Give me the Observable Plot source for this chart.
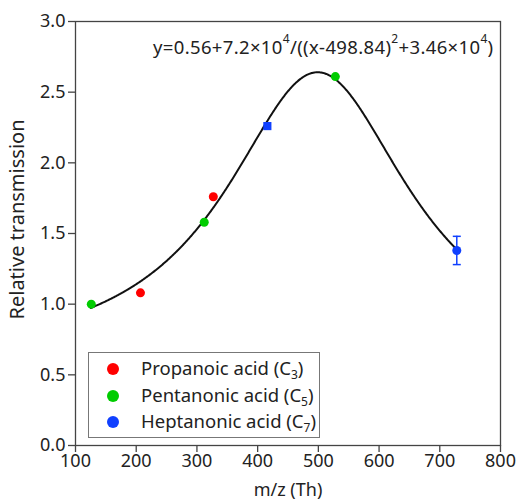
<!DOCTYPE html>
<html>
<head>
<meta charset="utf-8">
<script src="https://cdn.jsdelivr.net/npm/d3@7"></script>
<script src="https://cdn.jsdelivr.net/npm/@observablehq/plot@0.6"></script>
<style>
  html, body { margin: 0; padding: 0; background: #fff; }
  #wrap { position: relative; width: 518px; height: 502px; font-family: "Noto Sans", sans-serif; color: #222; }
  #eq { position: absolute; left: 153px; top: 38px; font-size: 18.5px; letter-spacing: 0.35px; white-space: nowrap; line-height: 1; }
  #eq sup { font-size: 12px; vertical-align: 0; position: relative; top: -11px; }
  #legend { position: absolute; left: 88px; top: 352px; width: 232px; height: 86px; border: 1px solid #777; box-sizing: border-box; background: #fff; }
  .row { position: absolute; left: 0; height: 22px; display: flex; align-items: center; font-size: 18.5px; white-space: nowrap; }
  .dotk { width: 12px; height: 12px; border-radius: 50%; margin-left: 18px; margin-right: 22px; flex: none; }
  .row sub { font-size: 12px; vertical-align: -4px; }
</style>
</head>
<body>
<div id="wrap"></div>
<script>
// ---- data ----
const seriesNames = ["Propanoic acid", "Pentanonic acid", "Heptanonic acid"];
const seriesSub = ["3", "5", "7"];
const seriesColors = ["#ff0000", "#00cc00", "#1040ff"];

const propanoicX = [207, 327];
const propanoicY = [1.08, 1.76];

const pentanonicX = [126, 312, 528];
const pentanonicY = [1.00, 1.58, 2.61];

const heptanonicSquareX = [416];
const heptanonicSquareY = [2.26];
const heptanonicCircleX = [728];
const heptanonicCircleY = [1.38];
const heptanonicErr = [0.10];

// fitted curve parameters printed on the chart: y = a + b/((x-c)^2 + d)
const fitParams = [0.56, 7.2e4, 498.84, 3.46e4];
const fitRange = [125, 728];

const xTicks = [100, 200, 300, 400, 500, 600, 700, 800];
const yTicks = [0, 0.5, 1.0, 1.5, 2.0, 2.5, 3.0];

// ---- build tables ----
const prop = propanoicX.map((x, i) => ({x, y: propanoicY[i]}));
const pent = pentanonicX.map((x, i) => ({x, y: pentanonicY[i]}));
const heptSq = heptanonicSquareX.map((x, i) => ({x, y: heptanonicSquareY[i]}));
const heptCi = heptanonicCircleX.map((x, i) => ({x, y: heptanonicCircleY[i], lo: heptanonicCircleY[i] - heptanonicErr[i], hi: heptanonicCircleY[i] + heptanonicErr[i]}));
const [a, b, c, d] = fitParams;
const curve = d3.range(fitRange[0], fitRange[1] + 0.5, 1).map(x => ({x, y: a + b / ((x - c) ** 2 + d)}));

const capSymbol = {
  draw(ctx, size) {
    const r = Math.sqrt(size / Math.PI);
    ctx.moveTo(-r, 0);
    ctx.lineTo(r, 0);
  }
};

const chart = Plot.plot({
  width: 518,
  height: 502,
  marginLeft: 75,
  marginRight: 18,
  marginTop: 21,
  marginBottom: 57,
  style: {fontFamily: "Noto Sans, sans-serif", fontSize: "18px", color: "#222", background: "#fff"},
  x: {domain: [100, 800]},
  y: {domain: [0, 3]},
  marks: [
    Plot.frame({stroke: "#444", strokeWidth: 1.3}),
    Plot.axisX({ticks: xTicks, tickSize: 7, tickPadding: 2, tickFormat: d3.format("d"), stroke: "#444", strokeWidth: 1.3, fontSize: 18,
      label: "m/z (Th)", labelAnchor: "center", labelArrow: "none", labelOffset: 50}),
    Plot.axisY({ticks: yTicks, tickSize: 7, tickPadding: 3, tickFormat: d3.format(".1f"), stroke: "#444", strokeWidth: 1.3, fontSize: 18, label: null}),
    Plot.text(["Relative transmission"], {frameAnchor: "left", textAnchor: "middle", rotate: -90, dx: -58, dy: -14, fontSize: 20, fill: "#222"}),
    Plot.line(curve, {x: "x", y: "y", stroke: "#111", strokeWidth: 2}),
    Plot.ruleX(heptCi, {x: "x", y1: "lo", y2: "hi", stroke: seriesColors[2], strokeWidth: 1.5}),
    Plot.dot(heptCi, {x: "x", y: "lo", symbol: capSymbol, r: 4, stroke: seriesColors[2], strokeWidth: 1.5}),
    Plot.dot(heptCi, {x: "x", y: "hi", symbol: capSymbol, r: 4, stroke: seriesColors[2], strokeWidth: 1.5}),
    Plot.dot(prop, {x: "x", y: "y", r: 4.5, fill: seriesColors[0]}),
    Plot.dot(pent, {x: "x", y: "y", r: 4.5, fill: seriesColors[1]}),
    Plot.dot(heptSq, {x: "x", y: "y", r: 4.6, symbol: "square", fill: seriesColors[2]}),
    Plot.dot(heptCi, {x: "x", y: "y", r: 4.5, fill: seriesColors[2]})
  ]
});

const wrap = document.getElementById("wrap");
wrap.appendChild(chart);

const eq = document.createElement("div");
eq.id = "eq";
eq.innerHTML = "y=0.56+7.2×10<sup>4</sup>/((x-498.84)<sup>2</sup>+3.46×10<sup>4</sup>)";
wrap.appendChild(eq);

const legend = document.createElement("div");
legend.id = "legend";
seriesNames.forEach((name, i) => {
  const row = document.createElement("div");
  row.className = "row";
  row.style.top = (5 + i * 26.5) + "px";
  row.innerHTML = `<span class="dotk" style="background:${seriesColors[i]}"></span><span>${name} (C<sub>${seriesSub[i]}</sub>)</span>`;
  legend.appendChild(row);
});
wrap.appendChild(legend);
</script>
</body>
</html>
